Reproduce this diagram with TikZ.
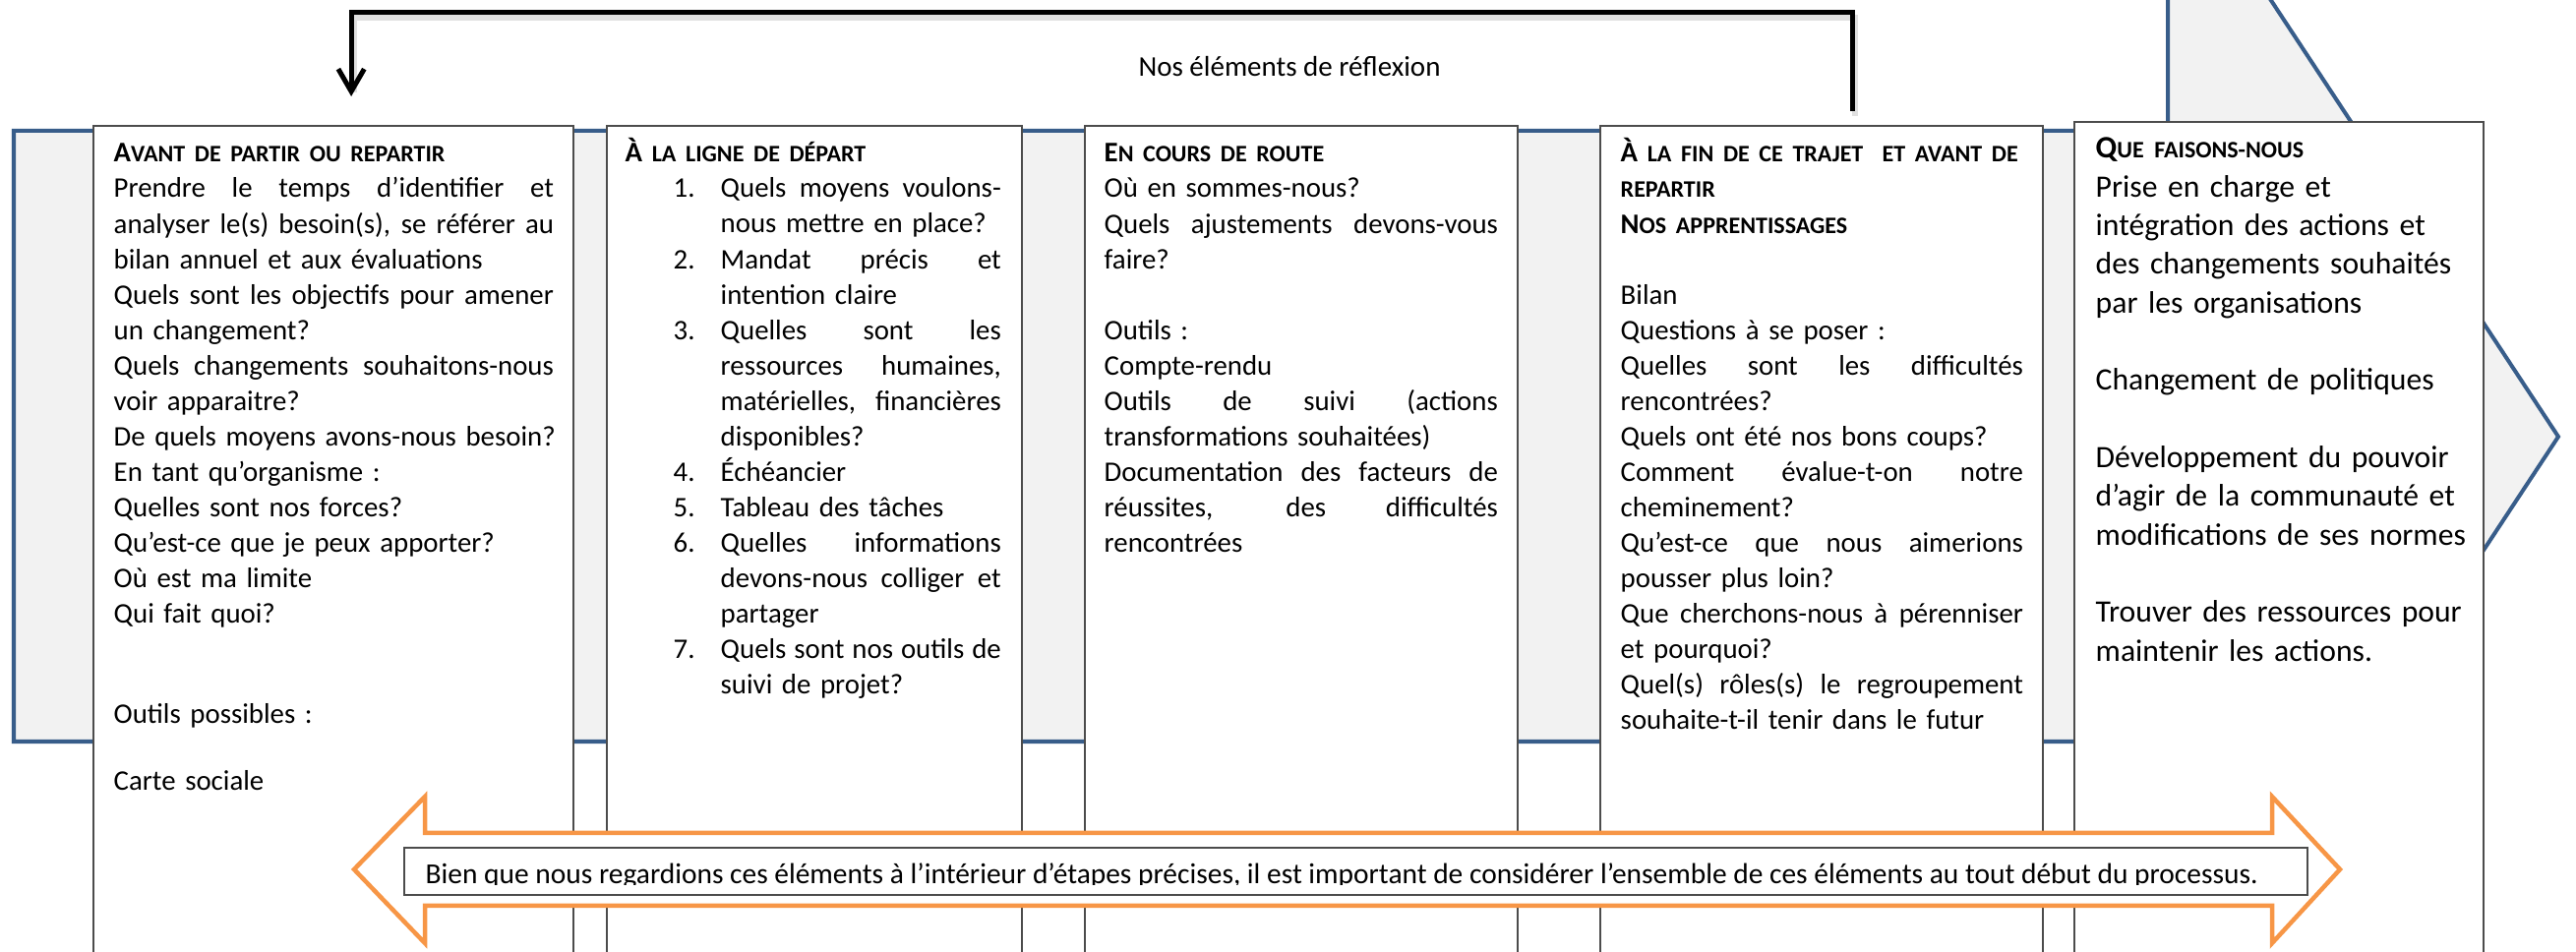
\documentclass[tikz,border=0pt]{standalone}
\usepackage{fontspec}
\setmainfont{Carlito}
\usepackage{tikz}
\usetikzlibrary{arrows.meta}

\definecolor{bandeau}{HTML}{385D8A}
\definecolor{fondgris}{HTML}{F2F2F2}
\definecolor{orangefl}{HTML}{F79646}

\newcommand{\jl}[1]{\makebox[\linewidth][s]{\spaceskip=0pt\xspaceskip=0pt\relax #1}}
\newcommand{\etq}[2]{\textbf{#1{\fontsize{6.83}{10.24}\selectfont #2}}}

\tikzset{
  etape/.style={draw=black!70, fill=white, line width=0.55pt, anchor=north west, inner sep=0pt},
  texte/.style={anchor=base west, inner sep=0pt, align=left, font=\fontsize{8.2}{10.24}\selectfont},
  retour/.style={line width=1.42pt, -{Straight Barb[length=6.5pt,width=7.5pt]}}
}

\begin{document}
\begin{tikzpicture}[x=0.01cm, y=-0.01cm]

\useasboundingbox (0,0) rectangle (2619,968);
\clip (0,0) rectangle (2619,968);

\draw[draw=bandeau, fill=fondgris, line width=1.14pt] (14,133) -- (2204,133) -- (2204,-159) -- (2601,444) -- (2204,1047) -- (2204,754) -- (14,754) -- cycle;

\node[etape, minimum width=4.88cm, minimum height=9cm] (avant) at (94,127) {};
\node[etape, minimum width=4.22cm, minimum height=9cm] (ligne) at (616,127) {};
\node[etape, minimum width=4.40cm, minimum height=9cm] (route) at (1102,127) {};
\node[etape, minimum width=4.50cm, minimum height=9cm] (fin) at (1626,127) {};
\node[etape, minimum width=4.16cm, minimum height=9cm] (faisons) at (2108,123) {};

\draw[black!12, line width=1.6pt] ([xshift=0.34cm,yshift=0.09cm]fin.north) -- ++(0,-100) -| ([xshift=0.21cm,yshift=0.33cm]avant.north);
\draw[retour] ([xshift=0.31cm,yshift=0.14cm]fin.north) -- ++(0,-100) -| ([xshift=0.18cm,yshift=0.29cm]avant.north);
\node[anchor=base, inner sep=0pt, font=\fontsize{8.25}{10}\selectfont] (reflexion) at (1311,78) {Nos éléments de réflexion};

\node[texte, text width=4.47cm] (avanttxt) at (115,165) {\etq{A}{VANT DE PARTIR OU REPARTIR}\\
\jl{Prendre le temps d’identifier et}\\
\jl{analyser le(s) besoin(s), se référer au}\\
bilan annuel et aux évaluations\\
\jl{Quels sont les objectifs pour amener}\\
un changement?\\
\jl{Quels changements souhaitons-nous}\\
voir apparaitre?\\
\mbox{De quels moyens avons-nous besoin?}\\
En tant qu’organisme :\\
Quelles sont nos forces?\\
Qu’est-ce que je peux apporter?\\
Où est ma limite\\
Qui fait quoi?\\[0.66cm]
Outils possibles :\\[0.32cm]
Carte sociale};

\node[texte, text width=3.9cm] (lignetxt) at (635,165) {\etq{À}{ LA LIGNE DE DÉPART}};
\node[texte, text width=0.4cm] (numeros) at (684,201) {1.\\~\\2.\\~\\3.\\~\\~\\~\\4.\\5.\\6.\\~\\~\\7.};
\node[texte, text width=2.85cm] (lignelst) at (732,201) {\jl{Quels moyens voulons-}\\
nous mettre en place?\\
\jl{Mandat précis et}\\
intention claire\\
\jl{Quelles sont les}\\
\jl{ressources humaines,}\\
\jl{matérielles, financières}\\
disponibles?\\
Échéancier\\
Tableau des tâches\\
\jl{Quelles informations}\\
\jl{devons-nous colliger et}\\
partager\\
\jl{Quels sont nos outils de}\\
suivi de projet?};

\node[texte, text width=4.0cm] (routetxt) at (1122,165) {\etq{E}{N COURS DE ROUTE}\\
Où en sommes-nous?\\
\jl{Quels ajustements devons-vous}\\
faire?\\[0.36cm]
Outils :\\
Compte-rendu\\
\jl{Outils de suivi (actions}\\
transformations souhaitées)\\
\jl{Documentation des facteurs de}\\
\jl{réussites, des difficultés}\\
rencontrées};

\node[texte, text width=4.09cm] (fintxt) at (1647,165) {\etq{À}{ LA FIN DE CE TRAJET\ \ ET AVANT DE}\\
\etq{}{REPARTIR}\\
\etq{N}{OS APPRENTISSAGES}\\[0.36cm]
Bilan\\
Questions à se poser :\\
\jl{Quelles sont les difficultés}\\
rencontrées?\\
Quels ont été nos bons coups?\\
\jl{Comment évalue-t-on notre}\\
cheminement?\\
\jl{Qu’est-ce que nous aimerions}\\
pousser plus loin?\\
\jl{Que cherchons-nous à pérenniser}\\
et pourquoi?\\
\jl{Quel(s) rôles(s) le regroupement}\\
souhaite-t-il tenir dans le futur};

\node[texte, text width=3.85cm, font=\fontsize{9.0}{11.18}\selectfont] (faisonstxt) at (2130,161) {\etq{Q}{UE FAISONS-NOUS}\\
Prise en charge et\\
intégration des actions et\\
des changements souhaités\\
par les organisations\\[0.393cm]
Changement de politiques\\[0.393cm]
Développement du pouvoir\\
d’agir de la communauté et\\
modifications de ses normes\\[0.393cm]
Trouver des ressources pour\\
maintenir les actions.};

\draw[orangefl, fill=white, line width=1.28pt] (360,884) -- (432,810) -- (432,847) -- (2310,847) -- (2310,810) -- (2379,884) -- (2310,959) -- (2310,921) -- (432,921) -- (432,959) -- cycle;
\node[draw=black!70, fill=white, line width=0.5pt, anchor=north west, inner sep=0pt, minimum width=19.34cm, minimum height=0.48cm] (note) at (410,861) {};
\begin{scope}
\clip (410,861) rectangle (2344,900);
\node[anchor=base west, inner sep=0pt, font=\fontsize{8.37}{10}\selectfont] (notetxt) at (432,899) {Bien que nous regardions ces éléments à l’intérieur d’étapes précises, il est important de considérer l’ensemble de ces éléments au tout début du processus.};
\end{scope}

\end{tikzpicture}
\end{document}
